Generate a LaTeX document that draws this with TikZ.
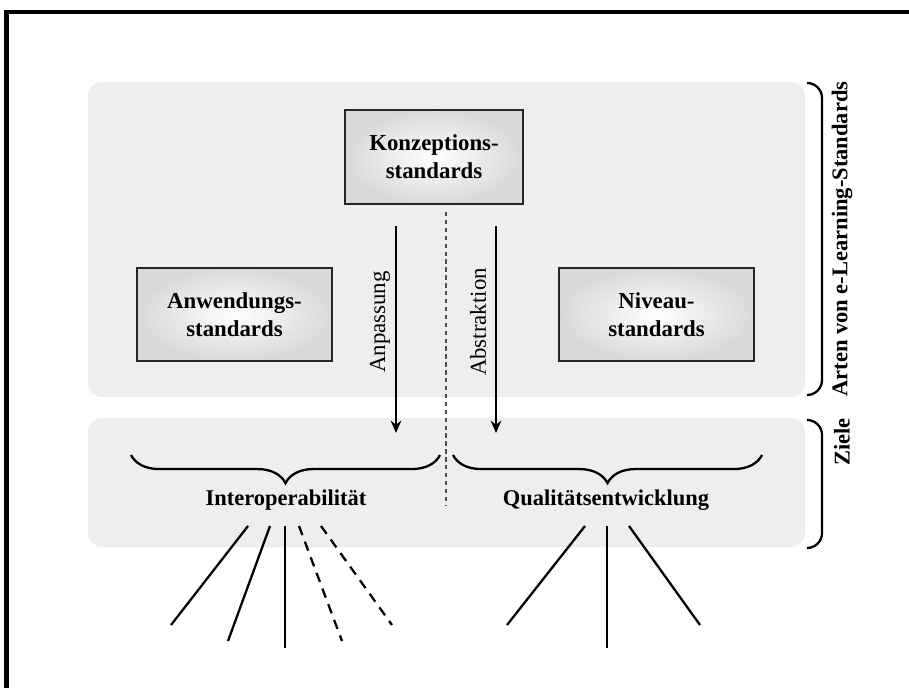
\documentclass[tikz,border=0pt]{standalone}
\usepackage{fontspec}
\setmainfont{Liberation Serif}
\usetikzlibrary{arrows.meta,decorations.pathreplacing}

\tikzset{
  panel/.style={fill=gray!13, rounded corners=8pt},
  stdbox/.style={draw=black!85, line width=1.4pt, inner color=white, outer color=gray!30,
    minimum width=3.9cm, minimum height=1.86cm, align=center,
    font=\bfseries\fontsize{13}{16}\selectfont},
  goal/.style={font=\bfseries\fontsize{12.8}{15}\selectfont},
  sidelabel/.style={rotate=90, font=\bfseries\fontsize{12.8}{15}\selectfont},
  flowlabel/.style={rotate=90, font=\fontsize{13}{15}\selectfont},
  flow/.style={-{Stealth[length=7pt,width=6pt]}, line width=1.2pt},
  curly/.style={decorate, decoration={brace,mirror,amplitude=16pt}, line width=1.3pt},
  fan/.style={line width=1.3pt},
  fandash/.style={line width=1.3pt, dash pattern=on 5.5pt off 4pt}
}

\begin{document}
\begin{tikzpicture}

\useasboundingbox (0,0) rectangle (18.18,13.76);

% Frame (top and left edge)
\draw[line width=2.4pt] (0.13,0) -- (0.13,13.52) -- (18.18,13.52);

% Grey panels
\fill[panel] (1.76,5.82) rectangle (16.10,12.12);
\fill[panel] (1.76,2.82) rectangle (16.10,5.40);

% Kinds of standards
\node[stdbox, minimum width=3.56cm, minimum height=1.88cm] (konz) at (8.68,10.62) {Konzeptions-\\standards};
\node[stdbox] (anw) at (4.69,7.47) {Anwendungs-\\standards};
\node[stdbox] (niveau) at (13.13,7.47) {Niveau-\\standards};

% Divider
\coordinate (divtop) at (8.92,9.52);
\coordinate (divbot) at (8.92,3.66);
\draw[gray!60!black, line width=0.7pt, dash pattern=on 2.5pt off 2pt] (divtop) -- (divbot);

% Arrows
\coordinate (anpA) at (7.92,9.24);
\coordinate (anpB) at (7.92,5.10);
\coordinate (absA) at (9.92,9.24);
\coordinate (absB) at (9.92,5.10);
\draw[flow] (anpA) -- (anpB);
\draw[flow] (absA) -- (absB);
\node[flowlabel] (anp) at (7.60,7.32) {Anpassung};
\node[flowlabel] (abs) at (9.56,7.32) {Abstraktion};

% Braces and goals
\coordinate (brL1) at (2.62,4.66);
\coordinate (brL2) at (8.80,4.66);
\coordinate (brR1) at (9.06,4.66);
\coordinate (brR2) at (15.24,4.66);
\draw[curly] (brL1) -- (brL2);
\draw[curly] (brR1) -- (brR2);
\node[goal] (interop) at (5.72,3.76) {Interoperabilität};
\node[goal] (quali) at (12.12,3.76) {Qualitätsentwicklung};

% Fan below Interoperabilitaet
\coordinate (i1) at (3.42,1.26);
\coordinate (i2) at (4.56,0.94);
\coordinate (i3) at (5.70,0.80);
\coordinate (i4) at (6.84,0.94);
\coordinate (i5) at (7.84,1.26);
\draw[fan] (4.96,3.24) -- (i1);
\draw[fan] (5.40,3.24) -- (i2);
\draw[fan] (5.70,3.24) -- (i3);
\draw[fandash] (5.98,3.24) -- (i4);
\draw[fandash] (6.42,3.24) -- (i5);

% Fan below Qualitaetsentwicklung
\coordinate (q1) at (10.14,1.26);
\coordinate (q2) at (12.14,0.80);
\coordinate (q3) at (14.00,1.26);
\draw[fan] (11.70,3.24) -- (q1);
\draw[fan] (12.14,3.24) -- (q2);
\draw[fan] (12.58,3.24) -- (q3);

% Side brackets
\draw[line width=1.3pt] (16.14,12.10) to[out=0,in=90] (16.44,11.80) -- (16.44,6.16) to[out=-90,in=0] (16.14,5.86);
\draw[line width=1.3pt] (16.14,5.36) to[out=0,in=90] (16.44,5.06) -- (16.44,3.10) to[out=-90,in=0] (16.14,2.80);
\node[sidelabel] (arten) at (16.84,8.98) {Arten von e-Learning-Standards};
\node[sidelabel] (ziele) at (16.84,4.92) {Ziele};

\end{tikzpicture}
\end{document}
